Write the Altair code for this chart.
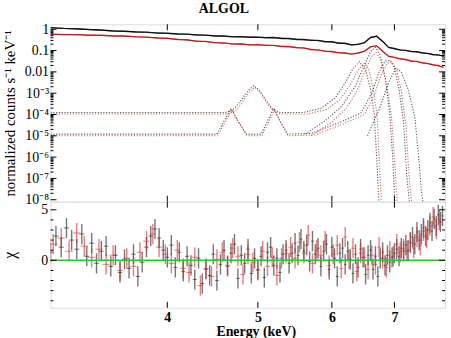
import altair as alt
import pandas as pd

FONT = "Liberation Serif"

# ---------------- spectrum (top panel) ----------------
SPEC_E = [3.0, 3.1, 3.2, 3.3, 3.4, 3.5, 3.6, 3.7, 3.8, 3.9,
          4.0, 4.1, 4.2, 4.3, 4.4, 4.5, 4.6, 4.7, 4.8, 4.9,
          5.0, 5.1, 5.2, 5.3, 5.4, 5.5, 5.6, 5.7, 5.8, 5.9,
          6.0, 6.1, 6.2, 6.3, 6.4, 6.5, 6.6, 6.7, 6.8, 6.9,
          7.0, 7.1, 7.2, 7.3, 7.4, 7.5, 7.6, 7.7, 7.8, 7.9]
BLACK_DATA = [1.20, 1.10, 1.06, 0.97, 0.92, 0.83, 0.81, 0.74, 0.73, 0.66,
              0.65, 0.60, 0.59, 0.54, 0.53, 0.48, 0.48, 0.44, 0.45, 0.42,
              0.43, 0.40, 0.41, 0.37, 0.37, 0.33, 0.33, 0.30, 0.30, 0.26,
              0.26, 0.22, 0.22, 0.18, 0.20, 0.23, 0.41, 0.47, 0.27, 0.14,
              0.125, 0.105, 0.102, 0.089, 0.088, 0.077, 0.074, 0.064, 0.063, 0.055]
BLACK_MODEL = [1.16, 1.09, 1.02, 0.96, 0.89, 0.84, 0.80, 0.76, 0.72, 0.68,
               0.64, 0.61, 0.58, 0.55, 0.52, 0.49, 0.47, 0.45, 0.44, 0.43,
               0.42, 0.41, 0.40, 0.38, 0.36, 0.34, 0.32, 0.31, 0.29, 0.27,
               0.25, 0.23, 0.21, 0.19, 0.19, 0.24, 0.40, 0.48, 0.26, 0.14,
               0.12, 0.11, 0.10, 0.092, 0.086, 0.079, 0.072, 0.066, 0.061, 0.057]
RED_DATA = [0.59, 0.56, 0.56, 0.52, 0.52, 0.48, 0.48, 0.44, 0.43, 0.39,
            0.38, 0.33, 0.32, 0.27, 0.27, 0.23, 0.23, 0.20, 0.21, 0.18,
            0.19, 0.175, 0.175, 0.155, 0.155, 0.135, 0.134, 0.11, 0.108, 0.092,
            0.09, 0.078, 0.077, 0.068, 0.077, 0.092, 0.15, 0.165, 0.092, 0.053,
            0.048, 0.040, 0.038, 0.031, 0.031, 0.026, 0.025, 0.021, 0.020, 0.016]
RED_MODEL = [0.58, 0.57, 0.55, 0.53, 0.51, 0.49, 0.47, 0.45, 0.42, 0.40,
             0.37, 0.34, 0.31, 0.28, 0.26, 0.24, 0.22, 0.21, 0.20, 0.19,
             0.185, 0.18, 0.17, 0.16, 0.15, 0.14, 0.13, 0.115, 0.105, 0.095,
             0.088, 0.081, 0.075, 0.070, 0.075, 0.095, 0.15, 0.17, 0.09, 0.055,
             0.047, 0.042, 0.037, 0.033, 0.030, 0.027, 0.024, 0.022, 0.019, 0.017]

# ---------------- model components (dotted) ----------------
COMP_A_E = [3.00, 4.62, 4.72, 4.80, 4.88, 4.95, 5.02, 5.10, 5.18, 5.28, 5.60,
            5.85, 6.05, 6.20, 6.32, 6.42, 6.52, 6.60, 6.66, 6.70, 6.74]
COMP_A_V = [1.25e-4, 1.25e-4, 1.9e-4, 4.8e-4, 1.3e-3, 2.3e-3, 1.3e-3, 4.8e-4, 1.9e-4, 1.25e-4, 1.25e-4,
            2.0e-4, 6.0e-4, 3.0e-3, 1.4e-2, 3.0e-2, 1.3e-2, 1.5e-3, 1.0e-4, 1.0e-6, 5.0e-9]
COMP_B_E = [3.00, 4.64, 4.74, 4.82, 4.89, 4.96, 5.03, 5.10, 5.18, 5.28, 5.65,
            5.92, 6.12, 6.28, 6.40, 6.50, 6.58, 6.65, 6.71, 6.74, 6.78]
COMP_B_V = [1.05e-4, 1.05e-4, 1.6e-4, 4.0e-4, 1.1e-3, 1.9e-3, 1.1e-3, 4.0e-4, 1.6e-4, 1.05e-4, 1.05e-4,
            1.7e-4, 5.0e-4, 2.5e-3, 1.2e-2, 2.6e-2, 1.1e-2, 1.2e-3, 8.0e-5, 1.0e-6, 5.0e-9]
COMP_C_E = [3.00, 4.52, 4.60, 4.68, 4.76, 4.86, 5.04, 5.12, 5.20, 5.28, 5.38, 5.70,
            6.10, 6.45, 6.62, 6.74, 6.84, 6.93, 7.00, 7.08, 7.16, 7.22, 7.27]
COMP_C_V = [1.2e-5, 1.2e-5, 5.0e-5, 1.9e-4, 5.0e-5, 1.2e-5, 1.2e-5, 5.0e-5, 1.9e-4, 5.0e-5, 1.2e-5, 1.3e-5,
            4.0e-5, 1.2e-4, 1.0e-3, 1.0e-2, 3.2e-2, 3.5e-2, 1.5e-2, 1.5e-3, 4.0e-5, 1.0e-7, 5.0e-9]
COMP_D_E = [3.00, 4.53, 4.61, 4.69, 4.77, 4.87, 5.05, 5.13, 5.21, 5.29, 5.39, 5.75,
            6.15, 6.50, 6.66, 6.78, 6.88, 6.96, 7.04, 7.12, 7.20, 7.26, 7.31]
COMP_D_V = [1.0e-5, 1.0e-5, 4.2e-5, 1.6e-4, 4.2e-5, 1.0e-5, 1.0e-5, 4.2e-5, 1.6e-4, 4.2e-5, 1.0e-5, 1.1e-5,
            3.4e-5, 1.0e-4, 8.0e-4, 8.0e-3, 2.6e-2, 2.8e-2, 1.2e-2, 1.2e-3, 3.5e-5, 1.0e-7, 5.0e-9]
COMP_E_E = [5.62, 5.90, 6.15, 6.35, 6.50, 6.60, 6.68, 6.76, 6.85, 6.92, 6.97, 7.01]
COMP_E_V = [1.2e-5, 5.0e-5, 2.5e-4, 2.0e-3, 2.0e-2, 9.0e-2, 1.4e-1, 6.0e-2, 4.0e-3, 1.0e-4, 1.0e-6, 5.0e-9]
COMP_F_E = [5.70, 5.98, 6.22, 6.40, 6.53, 6.62, 6.69, 6.77, 6.87, 6.95, 7.00, 7.05]
COMP_F_V = [1.0e-5, 4.0e-5, 2.0e-4, 1.6e-3, 1.5e-2, 5.5e-2, 8.0e-2, 3.5e-2, 2.5e-3, 8.0e-5, 1.0e-6, 5.0e-9]
COMP_G_E = [6.55, 6.75, 6.90, 7.02, 7.12, 7.24, 7.36, 7.43, 7.48, 7.52]
COMP_G_V = [1.0e-5, 2.0e-4, 3.0e-3, 1.5e-2, 1.0e-2, 1.5e-3, 8.0e-5, 1.0e-6, 3.0e-8, 5.0e-9]

COMPONENTS = [
    ("A", "#333333", COMP_A_E, COMP_A_V),
    ("B", "#c04848", COMP_B_E, COMP_B_V),
    ("C", "#333333", COMP_C_E, COMP_C_V),
    ("D", "#c04848", COMP_D_E, COMP_D_V),
    ("E", "#333333", COMP_E_E, COMP_E_V),
    ("F", "#c04848", COMP_F_E, COMP_F_V),
    ("G", "#333333", COMP_G_E, COMP_G_V),
]

# ---------------- residuals (bottom panel) ----------------
RES_BLACK_E = [3.00, 3.04, 3.08, 3.12, 3.16, 3.20, 3.24, 3.28, 3.32, 3.36,
               3.40, 3.44, 3.48, 3.52, 3.56, 3.60, 3.64, 3.68, 3.72, 3.76,
               3.80, 3.84, 3.88, 3.92, 3.96, 4.00, 4.04, 4.08, 4.12, 4.16,
               4.20, 4.24, 4.28, 4.32, 4.36, 4.40, 4.44, 4.48, 4.52, 4.56,
               4.60, 4.64, 4.68, 4.72, 4.76, 4.80, 4.84, 4.88, 4.92, 4.96,
               5.00, 5.04, 5.08, 5.12, 5.16, 5.20, 5.24, 5.28, 5.32, 5.36,
               5.40, 5.44, 5.48, 5.52, 5.56, 5.60, 5.64, 5.68, 5.72, 5.76,
               5.80, 5.84, 5.88, 5.92, 5.96, 6.00, 6.04, 6.08, 6.12, 6.16,
               6.20, 6.24, 6.28, 6.32, 6.36, 6.40, 6.44, 6.48, 6.52, 6.56,
               6.60, 6.64, 6.68, 6.72, 6.76, 6.80, 6.84, 6.88, 6.92, 6.96,
               7.00, 7.04, 7.08, 7.12, 7.16, 7.20, 7.24, 7.28, 7.32, 7.36,
               7.40, 7.44, 7.48, 7.52, 7.56, 7.60, 7.64, 7.68, 7.72, 7.76,
               7.80, 7.84, 7.88]
RES_BLACK = [0.8, 2.4, 1.3, 3.2, 2.0, 1.1, 2.6, 0.4, 1.7, -0.3,
             0.9, 1.4, -0.6, 0.5, -1.2, 0.1, -0.8, 0.6, -1.6, -0.2,
             1.3, 2.4, 3.1, 2.2, 1.0, 0.3, 1.5, -0.7, 0.8, -1.1,
             0.4, -0.5, -1.9, 0.2, -2.3, -0.9, -1.5, 0.6, -2.0, -0.4,
             1.0, -0.6, 0.7, 1.6, -1.8, 0.5, -0.3, 1.1, -1.3, 0.2,
             -0.9, 0.4, -1.7, 0.8, 1.3, -0.5, 0.2, -1.2, 0.6, 1.0,
             -0.3, 0.7, 1.7, 0.5, 2.1, 0.9, 1.5, -0.1, 1.9, 0.6,
             1.2, -0.6, 0.9, 1.6, -0.9, 1.3, 0.2, -1.6, 0.7, 1.2,
             -0.4, 0.9, 0.1, -1.3, 0.6, -0.7, 1.1, 0.3, -1.4, 0.5,
             1.0, -0.9, 0.4, -1.6, 0.2, 0.8, -0.5, 0.5, -0.2, 0.3,
             0.7, 1.1, 0.4, 1.2, 0.9, 1.5, 1.0, 1.8, 2.3, 1.6,
             2.8, 2.0, 2.6, 3.2, 2.4, 3.0, 3.7, 2.9, 4.1, 3.4,
             4.5, 3.8, 4.4]
RES_RED_E = [3.02, 3.08, 3.14, 3.20, 3.26, 3.32, 3.38, 3.44, 3.50, 3.56,
             3.62, 3.68, 3.74, 3.80, 3.86, 3.92, 3.98, 4.04, 4.10, 4.16,
             4.22, 4.28, 4.34, 4.40, 4.46, 4.52, 4.58, 4.64, 4.70, 4.76,
             4.82, 4.88, 4.94, 5.00, 5.06, 5.12, 5.18, 5.24, 5.30, 5.36,
             5.42, 5.48, 5.54, 5.60, 5.66, 5.72, 5.78, 5.84, 5.90, 5.96,
             6.02, 6.08, 6.14, 6.20, 6.26, 6.32, 6.38, 6.44, 6.50, 6.56,
             6.62, 6.68, 6.74, 6.80, 6.86, 6.92, 6.98, 7.04, 7.10, 7.16,
             7.22, 7.28, 7.34, 7.40, 7.46, 7.52, 7.58, 7.64, 7.70, 7.76,
             7.82]
RES_RED = [1.6, 2.2, 0.9, 2.7, 1.4, 0.3, 1.1, -0.4, 0.5, -1.0,
           0.2, -0.6, 0.8, 1.9, 2.6, 1.3, 0.6, -0.3, 1.0, -0.8,
           -1.2, 0.3, -2.5, -0.8, -1.6, 0.1, 0.8, -0.5, 1.2, 0.4,
           -1.4, 0.6, -0.2, -1.0, 0.9, -0.6, 0.3, -1.5, 0.2, 0.7,
           1.3, 0.2, 1.8, 0.7, 2.5, -0.3, 1.0, 0.5, 1.9, -0.5,
           0.6, 1.5, -0.8, 2.3, 0.1, 1.2, -1.1, 0.7, 0.3, -0.9,
           0.5, -0.4, 1.3, 0.2, -0.7, 0.9, 0.4, 1.6, 0.8, 1.1,
           0.9, 1.7, 1.2, 2.3, 1.5, 2.9, 2.2, 3.4, 4.3, 3.1,
           4.0]

# ---------------- axis ticks and labels ----------------
X_TICKS = [4, 5, 6, 7]
TOP_Y_TICKS = [1e-8, 1e-7, 1e-6, 1e-5, 1e-4, 1e-3, 0.01, 0.1, 1]
TOP_Y_LABELS = ["10⁻⁸", "10⁻⁷", "10⁻⁶", "10⁻⁵", "10⁻⁴", "10⁻³", "0.01", "0.1", "1"]
MINOR_MULT = [2, 3, 4, 5, 6, 7, 8, 9]
RES_Y_TICKS = [0, 5]
RES_Y_MINOR = [-4, -3, -2, -1, 1, 2, 3, 4]

W, H_TOP, H_RES = 398, 179, 107

XS = alt.Scale(type="log", domain=[3.0, 7.93], nice=False)
YS_TOP = alt.Scale(type="log", domain=[8.07e-9, 1.71], nice=False)
YS_RES = alt.Scale(domain=[-4.7, 5.8], nice=False, zero=False)

label_expr = "[" + ",".join(f"'{s}'" for s in TOP_Y_LABELS) + "][round(log(datum.value)/LN10)+8]"

# every layer of a panel carries the same axis definition so they merge cleanly
top_x_axis = alt.Axis(labels=False, ticks=False, domain=False, grid=False, title=None)
top_y_axis = alt.Axis(values=TOP_Y_TICKS, labelExpr=label_expr, ticks=False, domain=False, grid=False,
                      labelFont=FONT, labelFontSize=14, labelColor="black", labelPadding=2,
                      title="normalized counts s⁻¹ keV⁻¹", titleFont=FONT, titleFontSize=15,
                      titleFontWeight="normal", titleColor="black", titleX=-41, titleBaseline="middle")
res_y_axis = alt.Axis(values=RES_Y_TICKS, format="d", ticks=False, domain=False, grid=False,
                      labelFont=FONT, labelFontSize=14, labelColor="black", labelPadding=3,
                      title="χ", titleFont=FONT, titleFontSize=16, titleFontWeight="normal",
                      titleColor="black", titleX=-41, titleBaseline="middle")
res_x_axis = alt.Axis(values=X_TICKS, format="d", ticks=False, domain=False, grid=False,
                      labelFont=FONT, labelFontSize=14, labelFontWeight="bold", labelColor="black",
                      labelPadding=3, title="Energy (keV)", titleFont=FONT, titleFontSize=14,
                      titleFontWeight="bold", titleColor="black", titlePadding=0, titleX=207)

# ---------------- data frames ----------------
spec_rows = []
for e, bd, bm, rd, rm in zip(SPEC_E, BLACK_DATA, BLACK_MODEL, RED_DATA, RED_MODEL):
    spec_rows.append({"E": e, "v": bd, "s": "black data"})
    spec_rows.append({"E": e, "v": bm, "s": "black model"})
    spec_rows.append({"E": e, "v": rd, "s": "red data"})
    spec_rows.append({"E": e, "v": rm, "s": "red model"})
spec_df = pd.DataFrame(spec_rows)

comp_rows = []
for name, col, es, vs in COMPONENTS:
    for i, (e, v) in enumerate(zip(es, vs)):
        comp_rows.append({"comp": name, "color": col, "E": e, "v": v, "i": i})
comp_df = pd.DataFrame(comp_rows)

black_df = pd.DataFrame({"E": RES_BLACK_E, "r": RES_BLACK})
black_df["lo"], black_df["hi"] = black_df.r - 1, black_df.r + 1
black_df["e0"], black_df["e1"] = black_df.E - 0.02, black_df.E + 0.02
red_df = pd.DataFrame({"E": RES_RED_E, "r": RES_RED})
red_df["lo"], red_df["hi"] = red_df.r - 1, red_df.r + 1
red_df["e0"], red_df["e1"] = red_df.E - 0.03, red_df.E + 0.03

top_minor = [m * 10.0 ** d for d in range(-8, 1) for m in MINOR_MULT if m * 10.0 ** d < 1.71]


def x_ticks(h, length, axis):
    base = alt.Chart(pd.DataFrame({"E": X_TICKS})).mark_rule(color="black", strokeWidth=1)
    enc_x = alt.X("E:Q", scale=XS, axis=axis)
    return (base.encode(x=enc_x, y=alt.value(0), y2=alt.value(length)) +
            base.encode(x=enc_x, y=alt.value(h - length), y2=alt.value(h)))


def y_ticks(values, scale, length, axis):
    base = alt.Chart(pd.DataFrame({"v": values})).mark_rule(color="black", strokeWidth=1)
    enc_y = alt.Y("v:Q", scale=scale, axis=axis)
    return (base.encode(y=enc_y, x=alt.value(0), x2=alt.value(length)) +
            base.encode(y=enc_y, x=alt.value(W - length), x2=alt.value(W)))


# ---------------- top panel ----------------
comps = alt.Chart(comp_df).mark_line(strokeDash=[1.2, 1.6], strokeWidth=1.1, opacity=0.8, clip=True).encode(
    x=alt.X("E:Q", scale=XS, axis=top_x_axis),
    y=alt.Y("v:Q", scale=YS_TOP, axis=top_y_axis),
    color=alt.Color("color:N", scale=None),
    detail="comp:N",
    order="i:Q",
)


def spec_line(series, color, width, opacity):
    return alt.Chart(spec_df).transform_filter(alt.datum.s == series).mark_line(
        color=color, strokeWidth=width, opacity=opacity, clip=True).encode(
        x=alt.X("E:Q", scale=XS, axis=top_x_axis),
        y=alt.Y("v:Q", scale=YS_TOP, axis=top_y_axis),
    )


top = alt.layer(
    comps,
    spec_line("red data", "#d42020", 1.4, 0.9),
    spec_line("red model", "#b01010", 0.8, 0.9),
    spec_line("black data", "#111111", 1.4, 0.9),
    spec_line("black model", "#000000", 0.8, 0.9),
    x_ticks(H_TOP, 6, top_x_axis),
    y_ticks(TOP_Y_TICKS, YS_TOP, 6, top_y_axis),
    y_ticks(top_minor, YS_TOP, 3, top_y_axis),
).properties(width=W, height=H_TOP)


# ---------------- residual panel ----------------
def err_bars(df, color, opacity):
    vert = alt.Chart(df).mark_rule(color=color, strokeWidth=1.4, opacity=opacity, clip=True).encode(
        x=alt.X("E:Q", scale=XS, axis=res_x_axis),
        y=alt.Y("lo:Q", scale=YS_RES, axis=res_y_axis),
        y2="hi:Q",
    )
    horiz = alt.Chart(df).mark_rule(color=color, strokeWidth=1, opacity=opacity, clip=True).encode(
        x=alt.X("e0:Q", scale=XS, axis=res_x_axis),
        x2="e1:Q",
        y=alt.Y("r:Q", scale=YS_RES, axis=res_y_axis),
    )
    return vert + horiz


zero_line = alt.Chart(pd.DataFrame({"y": [0]})).mark_rule(color="#22cc22", strokeWidth=1.5).encode(
    y=alt.Y("y:Q", scale=YS_RES, axis=res_y_axis))

bottom = alt.layer(
    err_bars(black_df, "#1a1a1a", 0.6),
    err_bars(red_df, "#d42a2a", 0.6),
    zero_line,
    x_ticks(H_RES, 6, res_x_axis),
    y_ticks(RES_Y_TICKS, YS_RES, 6, res_y_axis),
    y_ticks(RES_Y_MINOR, YS_RES, 3, res_y_axis),
).properties(width=W, height=H_RES)

chart = alt.vconcat(top, bottom, spacing=0, bounds="flush").properties(
    title=alt.TitleParams("ALGOL", font=FONT, fontSize=14, fontWeight="bold", color="black",
                          anchor="middle", offset=6),
    padding={"left": 1, "top": 0, "right": 4, "bottom": 0},
).configure_view(stroke="black", strokeWidth=1.5).configure(font=FONT, background="white")

chart.save("out.html", embed_options={"renderer": "svg", "actions": False})
